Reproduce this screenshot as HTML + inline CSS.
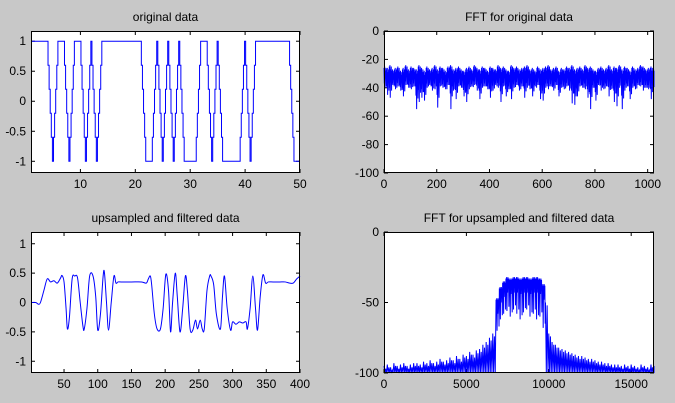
<!DOCTYPE html>
<html><head><meta charset="utf-8">
<style>
html,body{margin:0;padding:0;background:#c8c8c8;}
svg{display:block;font-family:"Liberation Sans",sans-serif;font-size:12px;}
</style></head>
<body>
<svg id="fig" width="675" height="403" viewBox="0 0 675 403"></svg>
<script>
// ---- data ----
const symbols = [1,1,1,1,-1,1,1,-1,1,1,-1,1,-1,1,1,1,1,1,1,1,1,-1,-1,1,-1,1,-1,1,-1,-1,-1,1,1,-1,1,-1,-1,-1,-1,1,-1,1,1,1,1,1,1,1,-1,-1];
const filtX = [1,8,12,15,20,25,30,35,40,45,47,50,53,55,58,62,66,70,74,78,80,84,88,93,97,100,104,108,110,113,116,120,124,127,130,135,150,165,172,175,178,180,184,188,193,197,201,205,208,211,215,218,222,226,230,233,237,241,245,248,252,255,258,262,266,268,272,276,282,285,288,292,297,300,305,310,315,320,322,326,330,334,337,341,345,349,353,360,370,378,385,390,395,400];
const filtY = [0,0,-0.03,0,0.2,0.4,0.35,0.37,0.33,0.42,0.46,0.35,-0.1,-0.45,-0.25,0.4,0.45,0.42,0.0,-0.4,-0.45,-0.1,0.45,0.45,0.1,-0.47,-0.2,0.45,0.5,0.0,-0.47,0.0,0.45,0.33,0.35,0.35,0.35,0.35,0.33,0.4,0.45,0.3,-0.2,-0.45,-0.45,-0.1,0.48,0.2,-0.5,0.0,0.5,0.1,-0.5,-0.1,0.45,0.2,-0.45,-0.47,-0.3,-0.45,-0.3,-0.45,-0.45,0.2,0.45,0.45,0.3,-0.2,-0.45,0.1,0.45,-0.1,-0.47,-0.33,-0.37,-0.33,-0.35,-0.33,-0.45,-0.1,0.45,-0.1,-0.47,0.1,0.47,0.33,0.35,0.35,0.35,0.35,0.33,0.33,0.4,0.45];
const fftBinStep = 10;
const fftHi = [-26,-27,-25,-28,-27,-26,-29,-27,-25,-28,-26,-27,-28,-25,-27,-29,-26,-28,-27,-25,-28,-26,-27,-29,-26,-25,-28,-27,-26,-28,-29,-27,-26,-28,-25,-27,-28,-26,-27,-29,-26,-27,-28,-25,-27,-26,-28,-29,-25,-27,-26,-28,-27,-26,-25,-28,-27,-29,-26,-28,-27,-26,-25,-28,-27,-26,-29,-27,-28,-26,-27,-25,-28,-27,-26,-28,-25,-27,-26,-28,-29,-27,-26,-28,-27,-25,-28,-26,-27,-25,-28,-26,-27,-29,-26,-28,-27,-25,-26,-28,-27,-26,-28];
const fftLo = [-40,-45,-47,-38,-41,-39,-42,-46,-38,-40,-41,-39,-55,-50,-47,-49,-40,-38,-42,-41,-54,-39,-40,-41,-38,-55,-42,-48,-39,-40,-46,-50,-41,-39,-38,-42,-48,-40,-39,-41,-47,-42,-38,-40,-50,-39,-46,-41,-48,-40,-38,-42,-39,-47,-40,-41,-46,-39,-38,-48,-49,-40,-41,-39,-42,-38,-46,-40,-41,-39,-42,-51,-52,-46,-39,-40,-41,-47,-55,-40,-49,-38,-42,-41,-39,-46,-41,-50,-53,-40,-55,-42,-39,-48,-40,-41,-38,-39,-42,-40,-41,-48,-39];
const upBinStep = 200;
const upHi = [-95,-94,-96,-93,-95,-94,-93,-95,-94,-93,-93,-94,-92,-93,-91,-93,-92,-90,-92,-91,-89,-91,-88,-90,-87,-88,-85,-87,-84,-83,-80,-78,-75,-72,-48,-40,-36,-33,-34,-33,-33,-34,-33,-33,-34,-33,-33,-34,-38,-50,-72,-78,-80,-82,-83,-84,-85,-86,-87,-88,-88,-89,-90,-90,-91,-92,-92,-93,-93,-94,-94,-94,-95,-94,-95,-94,-95,-96,-94,-95,-96,-94,-95];
const upLo = [-100,-100,-100,-100,-100,-100,-100,-100,-100,-100,-100,-100,-100,-100,-100,-100,-100,-100,-100,-100,-100,-100,-100,-100,-100,-100,-100,-100,-100,-100,-100,-100,-100,-100,-70,-62,-58,-56,-60,-55,-58,-62,-57,-55,-60,-58,-62,-60,-68,-100,-100,-100,-100,-100,-100,-100,-100,-100,-100,-100,-100,-100,-100,-100,-100,-100,-100,-100,-100,-100,-100,-100,-100,-100,-100,-100,-100,-100,-100,-100,-100,-100,-100];
const ticks = {
  tlX:[10,20,30,40,50], tlY:[1,0.5,0,-0.5,-1],
  blX:[50,100,150,200,250,300,350,400], blY:[1,0.5,0,-0.5,-1],
  trX:[0,200,400,600,800,1000], trY:[0,-20,-40,-60,-80,-100],
  brX:[0,5000,10000,15000], brY:[0,-50,-100]
};
// ---- drawing ----
const NS='http://www.w3.org/2000/svg';
const fig=document.getElementById('fig');
function mk(tag,attrs,parent){const e=document.createElementNS(NS,tag);for(const k in attrs)e.setAttribute(k,attrs[k]);(parent||fig).appendChild(e);return e;}
function axes(name,L,T,R,B,xmin,xmax,ymin,ymax,xt,yt,title){
  const g=mk('g',{});
  
  
  const sx=v=>L+(v-xmin)/(xmax-xmin)*(R-L);
  const sy=v=>B-(v-ymin)/(ymax-ymin)*(B-T);
  const bg=mk('rect',{x:L,y:T,width:R-L,height:B-T,fill:'#fff'},g);
  
  
  const tt=mk('text',{x:(L+R)/2,y:T-10,'text-anchor':'middle',fill:'#000'},g);
  tt.textContent=title;
  
  
  xt.forEach(v=>{const x=sx(v);
    mk('line',{x1:x,y1:B,x2:x,y2:B-4,stroke:'#000'},g);
    mk('line',{x1:x,y1:T,x2:x,y2:T+4,stroke:'#000'},g);
    const t=mk('text',{x:x,y:B+15,'text-anchor':'middle'},g);t.textContent=v;
    
    });
  yt.forEach(v=>{const y=sy(v);
    mk('line',{x1:L,y1:y,x2:L+4,y2:y,stroke:'#000'},g);
    mk('line',{x1:R,y1:y,x2:R-4,y2:y,stroke:'#000'},g);
    const t=mk('text',{x:L-5,y:y+4,'text-anchor':'end'},g);t.textContent=v;
    
    });
  return {g,sx,sy,L,T,R,B};
}
function frame(ax){mk('rect',{x:ax.L+0.5,y:ax.T+0.5,width:ax.R-ax.L-1,height:ax.B-ax.T-1,fill:'none',stroke:'#000'},ax.g);}
function line(ax,pts,name,smooth){
  let el;
  const P=pts.map(q=>[ax.sx(q[0]),ax.sy(q[1])]);
  if(smooth){
    let d='M'+P[0][0].toFixed(2)+','+P[0][1].toFixed(2);
    for(let i=0;i<P.length-1;i++){
      const p0=P[Math.max(i-1,0)],p1=P[i],p2=P[i+1],p3=P[Math.min(i+2,P.length-1)];
      const c1=[p1[0]+(p2[0]-p0[0])/6,p1[1]+(p2[1]-p0[1])/6];
      const c2=[p2[0]-(p3[0]-p1[0])/6,p2[1]-(p3[1]-p1[1])/6];
      d+=' C'+c1.map(v=>v.toFixed(2)).join(',')+' '+c2.map(v=>v.toFixed(2)).join(',')+' '+p2.map(v=>v.toFixed(2)).join(',');
    }
    el=mk('path',{d:d,fill:'none',stroke:'#0000ff','stroke-width':1},ax.g);
  } else {
    el=mk('polyline',{points:P.map(q=>q[0].toFixed(2)+','+q[1].toFixed(2)).join(' '),fill:'none',stroke:'#0000ff','stroke-width':1},ax.g);
  }
  
  
  frame(ax);
}
// top-left
const a1=axes('original-data-chart',31,31,300,173,1,50,-1.195,1.17,ticks.tlX,ticks.tlY,'original data');
let p1=[];
for(let i=0;i<symbols.length;i++){
  p1.push([i+1,symbols[i]]);
  if(i<symbols.length-1){const a=symbols[i],b=symbols[i+1];
    if(a!==b){for(let k=1;k<5;k++){const v=a+(b-a)*k/5;p1.push([i+1+(k-0.5)/5,p1[p1.length-1][1]]);p1.push([i+1+(k-0.5)/5,v]);}
      p1.push([i+1+4.5/5,p1[p1.length-1][1]]);p1.push([i+1+4.5/5,b]);}}
}
line(a1,p1,'original-data-line');
// bottom-left
const a2=axes('filtered-data-chart',31,232,300,373,1,400,-1.2,1.2,ticks.blX,ticks.blY,'upsampled and filtered data');
line(a2,filtX.map((x,i)=>[x,filtY[i]]),'filtered-data-line',true);
// top-right
const a3=axes('fft-original-chart',384,31,654,173,0,1024,-100,0,ticks.trX,ticks.trY,'FFT for original data');
let p3=[];fftHi.forEach((h,i)=>{const x=i*fftBinStep,lo=fftLo[i],m=(h+lo)/2;
  const seq=[h,m-4,h+1,lo,h-2,m+2,h,m-6];
  seq.forEach((v,k)=>p3.push([Math.min(x+k*fftBinStep/seq.length,1024),v]));});
line(a3,p3,'fft-original-line');
// bottom-right
const a4=axes('fft-filtered-chart',384,232,654,373,0,16384,-100,0,ticks.brX,ticks.brY,'FFT for upsampled and filtered data');
let p4=[];upHi.forEach((h,i)=>{const x=i*upBinStep,lo=upLo[i];
  const inBand=lo>-100;
  const seq=inBand?[h,h-8,h+1,lo,h,h-10,h+1,h-6,h,lo+3]:[h,-100,h-2,-100];
  seq.forEach((v,k)=>p4.push([Math.min(x+k*upBinStep/seq.length,16384),v]));});
line(a4,p4,'fft-filtered-line');
</script>
</body></html>
